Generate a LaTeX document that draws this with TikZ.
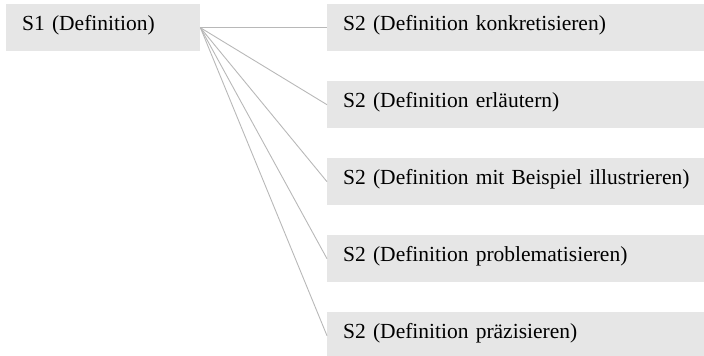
\documentclass[tikz,border=0pt]{standalone}
\usepackage{fontspec}
\setmainfont{Liberation Serif}
\begin{document}
\begin{tikzpicture}[x=1pt,y=-1pt,
  box/.style={fill=boxgray, draw=none, anchor=north west, inner xsep=16pt, inner ysep=0pt,
    minimum height=47pt, align=left, text height=0.75em, text depth=0.25em,
    font=\fontsize{21.5}{26}\selectfont, text=black},
  link/.style={draw=linegray, line width=0.9pt}]
\definecolor{boxgray}{HTML}{E6E6E6}
\definecolor{linegray}{HTML}{B8B8B8}
\useasboundingbox (0,0) rectangle (704,356);
\begin{scope}
\clip (0,0) rectangle (704,356);
\node[box, text width=162pt] (s1) at (6,4) {S1 (Definition)};
\node[box, text width=370pt] (a) at (327,4) {S2 (Definition konkretisieren)};
\node[box, text width=370pt] (b) at (327,81) {S2 (Definition erläutern)};
\node[box, text width=370pt] (c) at (327,158) {S2 (Definition mit Beispiel illustrieren)};
\node[box, text width=370pt] (d) at (327,235) {S2 (Definition problematisieren)};
\node[box, text width=370pt] (e) at (327,312) {S2 (Definition präzisieren)};
\end{scope}
\foreach \t in {a,b,c,d,e} \draw[link] (s1.east) -- (\t.west);
\end{tikzpicture}
\end{document}
